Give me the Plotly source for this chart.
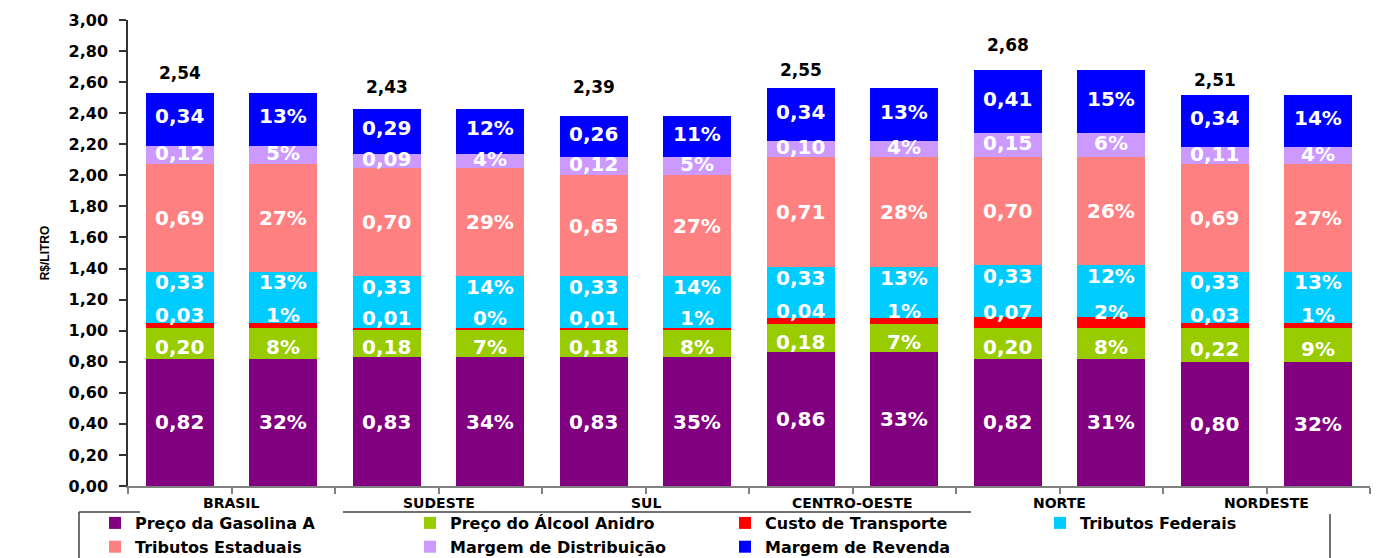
import plotly.graph_objects as go

# Composição do preço da gasolina por região (R$/litro)
regioes = ["BRASIL", "SUDESTE", "SUL", "CENTRO-OESTE", "NORTE", "NORDESTE"]

gasolina_a = [0.82, 0.83, 0.83, 0.86, 0.82, 0.80]
alcool_anidro = [0.20, 0.18, 0.18, 0.18, 0.20, 0.22]
custo_transporte = [0.03, 0.01, 0.01, 0.04, 0.07, 0.03]
tributos_federais = [0.33, 0.33, 0.33, 0.33, 0.33, 0.33]
tributos_estaduais = [0.69, 0.70, 0.65, 0.71, 0.70, 0.69]
margem_distribuicao = [0.12, 0.09, 0.12, 0.10, 0.15, 0.11]
margem_revenda = [0.34, 0.29, 0.26, 0.34, 0.41, 0.34]

precos_totais = [2.54, 2.43, 2.39, 2.55, 2.68, 2.51]

# Participação percentual de cada componente
pct_gasolina_a = [32, 34, 35, 33, 31, 32]
pct_alcool_anidro = [8, 7, 8, 7, 8, 9]
pct_custo_transporte = [1, 0, 1, 1, 2, 1]
pct_tributos_federais = [13, 14, 14, 13, 12, 13]
pct_tributos_estaduais = [27, 29, 27, 28, 26, 27]
pct_margem_distribuicao = [5, 4, 5, 4, 6, 4]
pct_margem_revenda = [13, 12, 11, 13, 15, 14]

componentes = [
    ("Preço da Gasolina A", gasolina_a, pct_gasolina_a, "#800080"),
    ("Preço do Álcool Anidro", alcool_anidro, pct_alcool_anidro, "#99CC00"),
    ("Custo de Transporte", custo_transporte, pct_custo_transporte, "#FF0000"),
    ("Tributos Federais", tributos_federais, pct_tributos_federais, "#00CCFF"),
    ("Tributos Estaduais", tributos_estaduais, pct_tributos_estaduais, "#FF8080"),
    ("Margem de Distribuição", margem_distribuicao, pct_margem_distribuicao, "#CC99FF"),
    ("Margem de Revenda", margem_revenda, pct_margem_revenda, "#0000FF"),
]

# vertical nudge (px) of the in-bar labels, per component
label_nudge = [0, -4, 10, 15, 0, 2, 3]
# lift (px) of the total label above each region's bar
total_lift = [20, 22, 29, 18, 25, 15]

FONT = "DejaVu Sans"

# two bars per region: one in R$, one in %
x_valor = [2 * i + 0.5 for i in range(len(regioes))]
x_pct = [2 * i + 1.5 for i in range(len(regioes))]

fig = go.Figure()
annotations = []
base = [0.0] * len(regioes)

for k, (nome, valores, pcts, cor) in enumerate(componentes):
    xs, ys = [], []
    for i in range(len(regioes)):
        xs += [x_valor[i], x_pct[i]]
        ys += [valores[i], valores[i]]
    fig.add_trace(go.Bar(
        x=xs, y=ys, name=nome, width=0.66,
        marker=dict(color=cor, line=dict(width=0)),
        hoverinfo="skip",
    ))
    for i in range(len(regioes)):
        ymid = base[i] + valores[i] / 2
        txt_v = f"{valores[i]:.2f}".replace(".", ",")
        txt_p = f"{pcts[i]}%"
        for xv, txt in ((x_valor[i], txt_v), (x_pct[i], txt_p)):
            annotations.append(dict(
                x=xv, y=ymid, xref="x", yref="y", text=txt, showarrow=False,
                yshift=label_nudge[k], xanchor="center", yanchor="middle",
                font=dict(family=FONT, size=20, color="white", weight="bold"),
            ))
        base[i] += valores[i]

# totals above the R$ bars
for i, tot in enumerate(precos_totais):
    annotations.append(dict(
        x=x_valor[i], y=base[i], xref="x", yref="y",
        text=f"{tot:.2f}".replace(".", ","), showarrow=False,
        yshift=total_lift[i], xanchor="center", yanchor="middle",
        font=dict(family=FONT, size=17, color="black", weight="bold"),
    ))

# region names under each pair of bars
for i, reg in enumerate(regioes):
    annotations.append(dict(
        x=2 * i + 1, y=0, xref="x", yref="paper", text=reg, showarrow=False,
        yshift=-17, xanchor="center", yanchor="middle",
        font=dict(family=FONT, size=14, color="black", weight="bold"),
    ))

# legend frame (partially drawn)
W, H = 1385, 558
ML, MR, MT, MB = 128, 15, 20, 72
pw, ph = W - ML - MR, H - MT - MB


def px_x(px):
    return (px - ML) / pw


def px_y(py):
    return (H - MB - py) / ph


frame_col = "#404040"
shapes = [
    dict(type="line", xref="paper", yref="paper", x0=px_x(79), x1=px_x(79),
         y0=px_y(512), y1=px_y(570), line=dict(color=frame_col, width=1.5)),
    dict(type="line", xref="paper", yref="paper", x0=px_x(79), x1=px_x(140),
         y0=px_y(512), y1=px_y(512), line=dict(color=frame_col, width=1.5)),
    dict(type="line", xref="paper", yref="paper", x0=px_x(343), x1=px_x(971),
         y0=px_y(512), y1=px_y(512), line=dict(color=frame_col, width=1.5)),
    dict(type="line", xref="paper", yref="paper", x0=px_x(1330), x1=px_x(1330),
         y0=px_y(514), y1=px_y(570), line=dict(color=frame_col, width=1.5)),
]

fig.update_layout(
    width=W, height=H,
    margin=dict(l=ML, r=MR, t=MT, b=MB, autoexpand=False),
    barmode="stack",
    bargap=0,
    separators=",.",
    plot_bgcolor="white", paper_bgcolor="white",
    font=dict(family=FONT, color="black"),
    showlegend=True,
    legend=dict(
        orientation="h", xref="paper", yref="paper",
        x=px_x(95), y=px_y(506), xanchor="left", yanchor="top",
        entrywidth=270, entrywidthmode="pixels",
        traceorder="normal",
        font=dict(family=FONT, size=16, color="black", weight="bold"),
        bgcolor="rgba(0,0,0,0)", borderwidth=0,
        itemclick=False, itemdoubleclick=False,
    ),
    xaxis=dict(
        range=[0, 12], tickmode="array", tickvals=list(range(13)),
        ticktext=[""] * 13, ticks="outside", ticklen=6, tickcolor="#808080",
        tickwidth=1.5,
        showline=True, linecolor="#808080", linewidth=1.5,
        showgrid=False, zeroline=False, fixedrange=True,
    ),
    yaxis=dict(
        range=[0, 3.0], tickmode="linear", tick0=0, dtick=0.2,
        tickformat=".2f", ticks="outside", ticklen=7, tickcolor="#333333",
        tickwidth=1.5,
        showline=True, linecolor="#333333", linewidth=1.5,
        showgrid=False, zeroline=False, fixedrange=True,
        tickfont=dict(family=FONT, size=16, color="black", weight="bold"),
        ticklabelstandoff=8,
        title=dict(text="R$/LITRO", standoff=16,
                   font=dict(family="Liberation Sans", size=12, color="black",
                             weight="bold")),
    ),
    annotations=annotations,
    shapes=shapes,
)

fig.write_html("out.html")
